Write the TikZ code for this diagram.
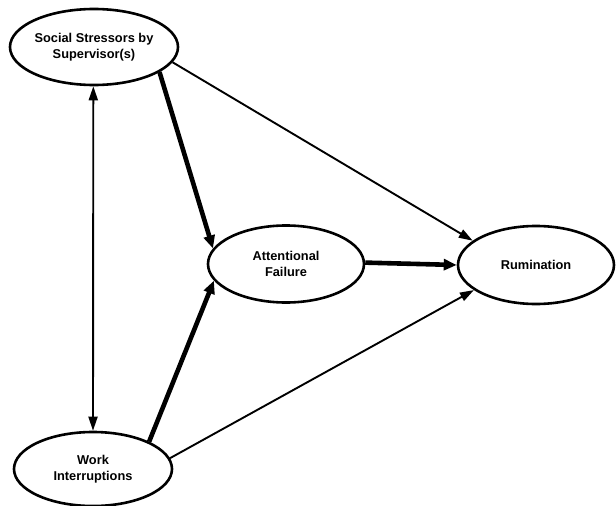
\documentclass[tikz,border=0pt]{standalone}
\usepackage{fontspec}
\setmainfont{Liberation Sans}
\usetikzlibrary{shapes.geometric,arrows.meta}
\begin{document}
\begin{tikzpicture}[x=1pt,y=-1pt,
  var/.style={ellipse,draw,line width=2.6pt,inner sep=0pt,align=center,
    font=\fontsize{12.8}{16}\selectfont\bfseries},
  thin/.style={line width=1.9pt,-{Triangle[length=14pt,width=9pt]}},
  thick/.style={line width=4.6pt,-{Triangle[length=13pt,width=11pt]}}]
\useasboundingbox (0,0) rectangle (616,506);
\node[var,minimum width=158pt,minimum height=76pt] (ss) at (94,47) {Social Stressors by\\Supervisor(s)};
\node[var,minimum width=156pt,minimum height=77pt] (af) at (286,264) {Attentional\\Failure};
\node[var,minimum width=156pt,minimum height=78pt] (ru) at (536,265) {Rumination};
\node[var,minimum width=158pt,minimum height=74pt] (wi) at (93,469) {Work\\Interruptions};
\draw[line width=1.9pt,{Triangle[length=14pt,width=9pt]}-{Triangle[length=14pt,width=9pt]}] (ss.-91) -- (wi.90);
\draw[thick] (ss.-21) -- (af.168);
\draw[thin] (ss.-11.5) -- (ru.159);
\draw[thick] (af.1) -- (ru.180);
\draw[thick] (wi.26) -- (af.-167);
\draw[thin] (wi.8) -- (ru.-158);
\end{tikzpicture}
\end{document}
